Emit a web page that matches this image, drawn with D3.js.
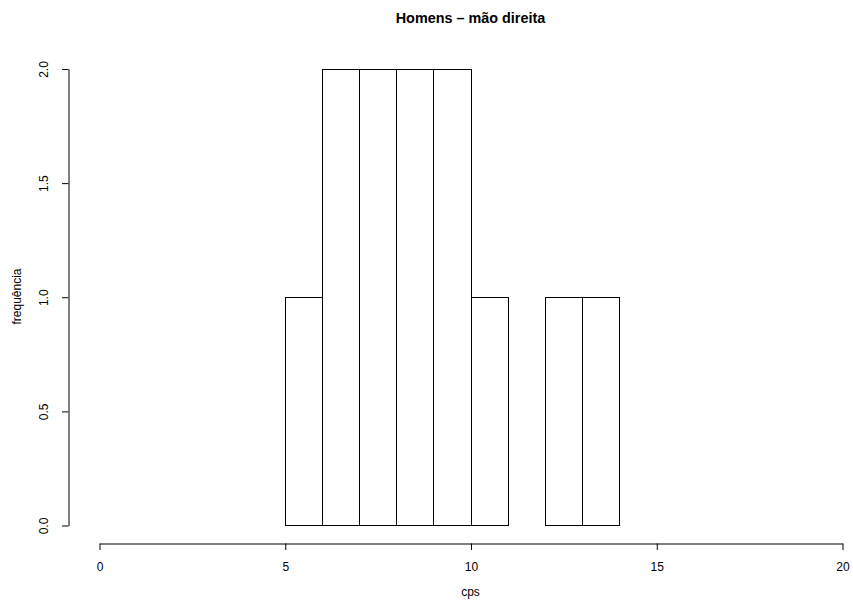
<!DOCTYPE html>
<html>
<head>
<meta charset="utf-8">
<script src="https://cdn.jsdelivr.net/npm/d3@7"></script>
<style>
  body { margin: 0; background: #fff; }
  svg text { font-family: "Liberation Sans", Arial, Helvetica, sans-serif; fill: #000; }
</style>
</head>
<body>
<script>
// histograma: limites das classes e contagens
const breaks = [5, 6, 7, 8, 9, 10, 11, 12, 13, 14];
const counts = [1, 2, 2, 2, 2, 1, 0, 1, 1];
const xTicks = [0, 5, 10, 15, 20];
const yTicks = [0, 0.5, 1, 1.5, 2];
const title = "Homens \u2013 m\u00e3o direita";
const xLabel = "cps";
const yLabel = "frequ\u00eancia";

const bins = counts.map((c, i) => ({x0: breaks[i], x1: breaks[i + 1], n: c}));

const width = 853, height = 607;

const svg = d3.select("body").append("svg")
    .attr("width", width)
    .attr("height", height);

const x = d3.scaleLinear().domain([0, 20]).range([99, 842]);
const y = d3.scaleLinear().domain([0, 2]).range([525, 68.5]);

const axisY = 543.5;   // linha do eixo x
const axisX = 68.5;    // linha do eixo y

// barras
svg.append("g")
    .selectAll("rect")
    .data(bins)
    .enter()
    .append("rect")
    .attr("x", d => Math.round(x(d.x0)) + 0.5)
    .attr("y", d => Math.round(y(d.n)) + 0.5)
    .attr("width", d => Math.round(x(d.x1)) - Math.round(x(d.x0)))
    .attr("height", d => Math.round(y(0)) - Math.round(y(d.n)))
    .attr("fill", "none")
    .attr("stroke", "#000")
    .attr("stroke-width", 1);

// eixo x
const gx = svg.append("g")
    .attr("transform", `translate(0.5, ${axisY})`)
    .call(d3.axisBottom(x).tickValues(xTicks).tickSize(6.5).tickSizeOuter(0).tickFormat(d3.format("d")));
gx.selectAll("text")
    .attr("y", 27)
    .attr("dy", null)
    .attr("font-size", "12px");

// eixo y
const gy = svg.append("g")
    .attr("transform", `translate(${axisX}, 0.5)`)
    .call(d3.axisLeft(y).tickValues(yTicks).tickSize(6.5).tickSizeOuter(0).tickFormat(d3.format(".1f")));
gy.selectAll("text")
    .attr("x", null)
    .attr("dy", null)
    .attr("text-anchor", "middle")
    .attr("transform", "translate(-21,0) rotate(-90)")
    .attr("font-size", "12px");

svg.selectAll(".domain, .tick line").attr("stroke", "#000");
svg.selectAll(".tick text").attr("fill", "#000");

// títulos
svg.append("text")
    .attr("x", 470.5)
    .attr("y", 23)
    .attr("text-anchor", "middle")
    .attr("font-size", "14.4px")
    .attr("font-weight", "bold")
    .text(title);

svg.append("text")
    .attr("x", 470.5)
    .attr("y", 596)
    .attr("text-anchor", "middle")
    .attr("font-size", "12px")
    .text(xLabel);

svg.append("text")
    .attr("transform", "translate(20.5, 296.5) rotate(-90)")
    .attr("text-anchor", "middle")
    .attr("font-size", "12px")
    .text(yLabel);
</script>
</body>
</html>
